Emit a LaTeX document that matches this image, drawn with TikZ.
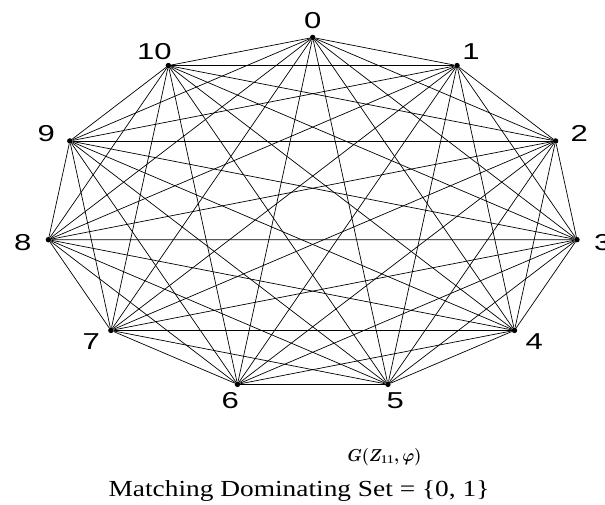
\documentclass[tikz,border=0pt]{standalone}
\usepackage{amsmath}
\usepackage{fontspec}
\setmainfont{Liberation Serif}
\newfontfamily\numfont{Liberation Sans}
\usepackage{tikz}
\usetikzlibrary{positioning,calc}
\definecolor{ink}{HTML}{000000}
\tikzset{
  vtx/.style  = {circle, fill=ink, draw=none, inner sep=0pt, minimum size=5.5pt},
  lbl/.style  = {font=\numfont\fontsize{23}{25}\selectfont, text=ink, inner sep=0pt, xscale=1.35},
  edg/.style  = {draw=ink, line width=0.7pt},
  captxt/.style = {font=\fontsize{23}{25}\selectfont, text=ink, inner sep=0pt, anchor=base, xscale=1.19},
  gnm/.style  = {font=\fontsize{17}{19}\selectfont, text=ink, inner sep=0pt, anchor=base, xscale=0.93},
}

\begin{document}
\begin{tikzpicture}[x=1pt, y=1pt]
  \useasboundingbox (0,0) rectangle (605,504);

  % vertices of G on an ellipse, 0 on top, clockwise
  \begin{scope}[shift={(312.7,289.5)}]
    \foreach \i in {0,...,10} {
      \node[vtx] (v\i) at ({90-\i*360/11}:267 and 177) {};
      \node[lbl] (l\i) at ({90-\i*360/11}:293 and 194) {\i};
    }
  \end{scope}

  % every pair is joined
  \foreach \i in {0,...,9} {
    \pgfmathtruncatemacro{\nxt}{\i+1}
    \foreach \j in {\nxt,...,10}
      \draw[edg] (v\i) -- (v\j);
  }

  \node[gnm] (gname) at (384.5,43) {$\boldsymbol{G(Z_{11},\varphi)}$};
  \node[captxt] (mds) at (299,8) {Matching Dominating Set = \{0, 1\}};
\end{tikzpicture}
\end{document}
